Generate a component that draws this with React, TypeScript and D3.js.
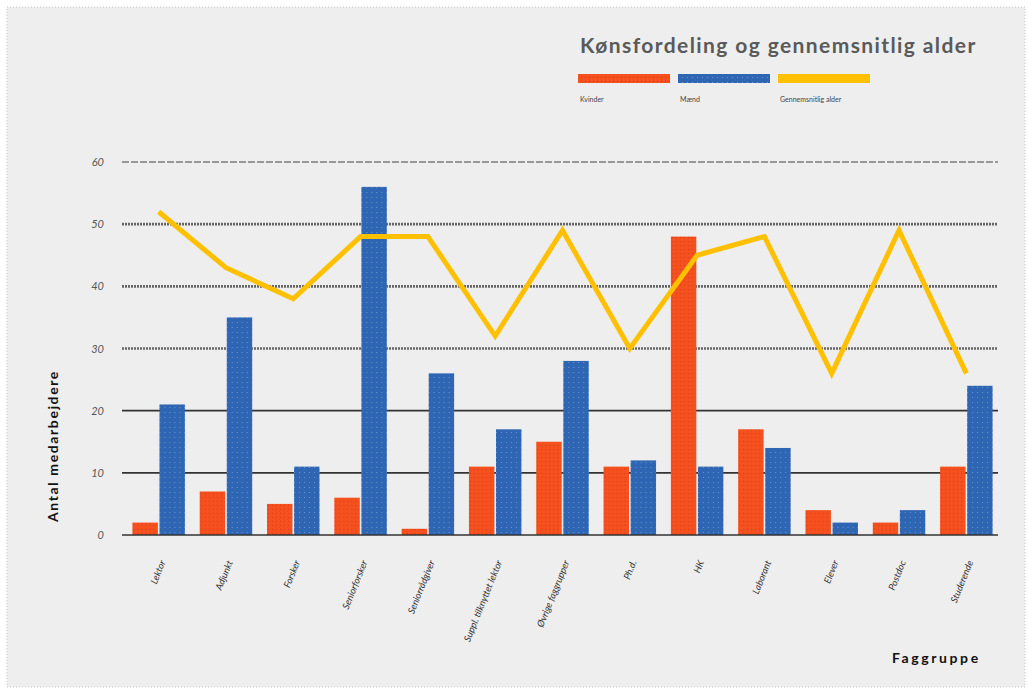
import React from 'react';
import * as d3 from 'd3';

// data
const categories = [
  'Lektor', 'Adjunkt', 'Forsker', 'Seniorforsker', 'Seniorrådgiver',
  'Suppl. tilknyttet lektor', 'Øvrige faggrupper', 'Ph.d.', 'HK', 'Laborant',
  'Elever', 'Postdoc', 'Studerende',
];
const kvinder = [2, 7, 5, 6, 1, 11, 15, 11, 48, 17, 4, 2, 11];
const maend = [21, 35, 11, 56, 26, 17, 28, 12, 11, 14, 2, 4, 24];
const alder = [52, 43, 38, 48, 48, 32, 49, 30, 45, 48, 26, 49, 26];
const yTicks = [0, 10, 20, 30, 40, 50, 60];
const seriesNames = ['Kvinder', 'Mænd', 'Gennemsnitlig alder'];

const W = 1032;
const H = 693;
const left = 125;
const right = 1000;
const top = 162;
const bottom = 535;

const ORANGE = '#f4511e';
const BLUE = '#2f66b3';
const YELLOW = '#ffc000';
const FONT = 'Lato, "Open Sans", sans-serif';

export default function App() {
  const x = d3.scaleBand<string>().domain(categories).range([left, right])
    .paddingInner(0.22).paddingOuter(0.11);
  const xInner = d3.scaleBand<string>().domain(['k', 'm']).range([0, x.bandwidth()]).paddingInner(0.06);
  const y = d3.scaleLinear().domain([0, 60]).range([bottom, top]);

  const line = d3.line<number>()
    .x((_, i) => (x(categories[i]) ?? 0) + x.bandwidth() / 2)
    .y(d => y(d));

  const gridStyle = (t: number) => {
    if (t === 60) return { stroke: '#444', strokeWidth: 1.2, strokeDasharray: '7,2' };
    if (t >= 30) return { stroke: '#666', strokeWidth: 2.6, strokeDasharray: '2,1' };
    return { stroke: '#333', strokeWidth: 1.6 };
  };

  return (
    <div style={{ position: 'absolute', left: 0, top: 0 }}>
      <svg width={W} height={H} style={{ display: 'block', background: '#fff' }}>
        <defs>
          <pattern id="pOrange" width="4" height="4" patternUnits="userSpaceOnUse">
            <rect width="4" height="4" fill={ORANGE} />
            <rect x="1" y="1" width="1" height="1" fill="#d9381a" />
          </pattern>
          <pattern id="pBlue" width="5" height="5" patternUnits="userSpaceOnUse">
            <rect width="5" height="5" fill={BLUE} />
            <rect x="2" y="2" width="1" height="1" fill="#6f93cc" />
          </pattern>
        </defs>
        <rect x={7} y={7} width={1018} height={680} fill="#eeeeee" stroke="#c8c8c8" strokeDasharray="1,2" />

        {/* title */}
        <text x={580} y={53} fontFamily={FONT} fontWeight="bold" fontSize={21} fill="#5a5a5a" letterSpacing={1.4}>
          Kønsfordeling og gennemsnitlig alder
        </text>

        {/* legend */}
        {seriesNames.map((s, i) => {
          const lx = 578 + i * 100;
          const fill = i === 0 ? 'url(#pOrange)' : i === 1 ? 'url(#pBlue)' : YELLOW;
          return (
            <g key={s}>
              <rect x={lx} y={74} width={92} height={9} fill={fill} />
              <text x={lx + 2} y={102} fontFamily={FONT} fontSize={7} fill="#444">{s}</text>
            </g>
          );
        })}

        {/* grid + y ticks */}
        {yTicks.map(t => (
          <g key={t}>
            {t > 0 && <line x1={122} x2={998} y1={y(t)} y2={y(t)} {...gridStyle(t)} />}
            <text x={104} y={y(t) + 4} textAnchor="end" fontFamily={FONT} fontStyle="italic" fontSize={11} fill="#555">{t}</text>
          </g>
        ))}

        {/* bars */}
        {categories.map((c, i) => (
          <g key={c} transform={`translate(${x(c)},0)`}>
            <rect x={xInner('k')} y={y(kvinder[i])} width={xInner.bandwidth()} height={bottom - y(kvinder[i])} fill="url(#pOrange)" />
            <rect x={xInner('m')} y={y(maend[i])} width={xInner.bandwidth()} height={bottom - y(maend[i])} fill="url(#pBlue)" />
          </g>
        ))}

        {/* x axis */}
        <line x1={122} x2={998} y1={bottom} y2={bottom} stroke="#333" strokeWidth={1.6} />

        {/* average age line */}
        <path d={line(alder) ?? ''} fill="none" stroke={YELLOW} strokeWidth={5} strokeLinejoin="miter" />

        {/* x labels */}
        {categories.map(c => {
          const cx = (x(c) ?? 0) + x.bandwidth() / 2 + 7;
          return (
            <text key={c} transform={`translate(${cx},${bottom + 27}) rotate(-68)`} textAnchor="end"
              fontFamily={FONT} fontStyle="italic" fontSize={9.5} fill="#333">{c}</text>
          );
        })}

        {/* axis titles */}
        <text transform={`translate(58,${446}) rotate(-90)`} textAnchor="middle" fontFamily={FONT}
          fontWeight="bold" fontSize={14} fill="#111" letterSpacing={1.6}>Antal medarbejdere</text>
        <text x={892} y={663} fontFamily={FONT} fontWeight="bold" fontSize={14} fill="#111" letterSpacing={2.6}>Faggruppe</text>
      </svg>
    </div>
  );
}
